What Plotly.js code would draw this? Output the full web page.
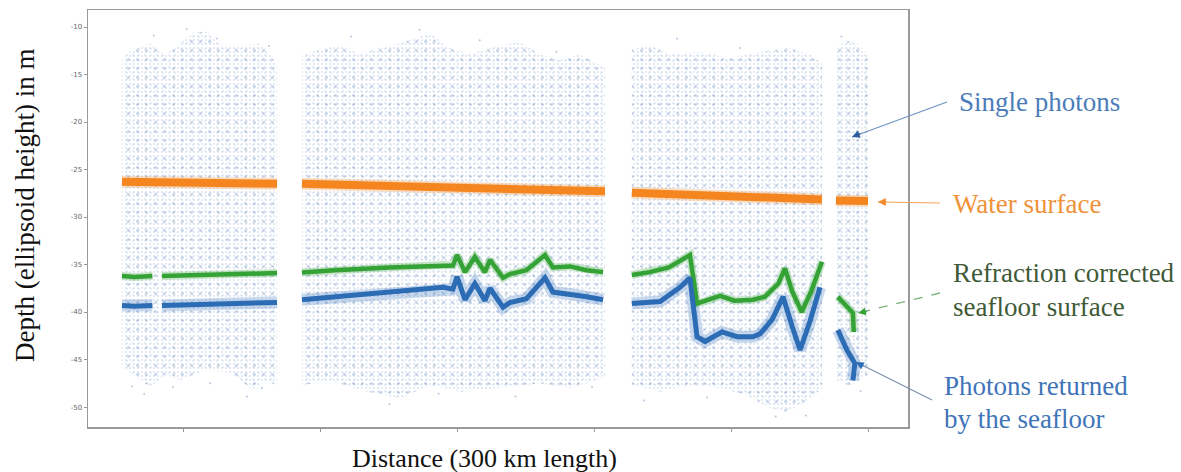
<!DOCTYPE html>
<html>
<head>
<meta charset="utf-8">
<script src="https://cdn.plot.ly/plotly-3.0.1.min.js"></script>
<style>html,body{margin:0;padding:0;background:#fff;}#chart{width:1181px;height:472px;}</style>
</head>
<body>
<div id="chart"></div>
<script>
// ---- Data (distance in km, depth in m) ----
// Noise photon envelopes per segment
var n1TopX = [12.4, 14.2, 22.6, 28.1, 32.5, 38.3, 43.4, 48.2, 52.9, 62.8, 66.4, 69.0];
var n1TopY = [-13.5, -12.7, -11.7, -12.9, -12.1, -10.6, -10.5, -11.9, -12.1, -11.7, -12.9, -14.0];
var n1BotX = [12.4, 14.2, 22.6, 28.1, 33.6, 42.7, 51.8, 60.2, 64.6, 69.0];
var n1BotY = [-45.6, -46.1, -47.9, -46.6, -47.2, -46.1, -46.4, -48.2, -47.2, -47.7];

var n2TopX = [78.1, 84.7, 92.0, 99.3, 106.6, 117.5, 124.8, 132.1, 139.4, 150.4, 157.7, 165.0, 172.3, 179.6, 188.7];
var n2TopY = [-12.9, -12.4, -11.9, -12.9, -12.2, -11.4, -10.6, -12.2, -12.9, -11.9, -11.6, -12.9, -13.5, -12.9, -14.3];
var n2BotX = [78.1, 88.3, 99.3, 113.9, 124.8, 135.8, 150.4, 165.0, 175.9, 188.7];
var n2BotY = [-47.7, -47.2, -48.2, -49.1, -47.7, -48.4, -48.0, -47.5, -48.0, -46.9];

var n3TopX = [198.5, 205.1, 212.4, 223.4, 234.3, 245.3, 256.2, 263.5, 267.9];
var n3TopY = [-12.4, -11.9, -12.9, -12.6, -13.3, -12.6, -12.2, -12.9, -13.7];
var n3BotX = [198.5, 208.8, 219.7, 230.7, 239.8, 248.9, 254.4, 259.9, 265.3, 267.9];
var n3BotY = [-47.7, -48.4, -47.7, -48.0, -48.7, -50.1, -50.5, -49.8, -48.7, -48.2];

var n4TopX = [273.0, 276.3, 280.7, 284.7];
var n4TopY = [-12.4, -11.4, -11.7, -12.9];
var n4BotX = [273.0, 278.1, 284.7];
var n4BotY = [-47.2, -47.8, -46.6];

// Water surface
var wsX = [12.4, 25, 40, 55, 69.0, null, 78.1, 100, 130, 160, 188.7, null, 198.5, 220, 245, 267.9, null, 273.0, 279.0, 284.7];
var wsY = [-26.3, -26.35, -26.4, -26.5, -26.5, null, -26.5, -26.7, -26.9, -27.1, -27.3, null, -27.45, -27.7, -27.95, -28.15, null, -28.25, -28.3, -28.3];

// Refraction corrected seafloor (green)
var gX = [12.4, 17, 23.5, null, 27, 40, 55, 69.0, null,
          78.1, 90, 110, 129.6, 133.2, 134.7, 137.6, 141.2, 144.9, 146.7, 151.5, 154.0, 160, 166.8, 169.7, 175.9, 182, 188.0, null,
          198.5, 205, 212, 219.7, 222.3, 226, 230.7, 236, 242.7, 247, 252, 254.4, 257, 260.5, 264, 267.9, null,
          273.7, 277.0, 279.2, 279.5];
var gY = [-36.2, -36.3, -36.2, null, -36.2, -36.1, -36.0, -35.9, null,
          -35.85, -35.6, -35.3, -35.05, -35.1, -34.0, -35.8, -34.2, -35.8, -34.5, -36.4, -36.0, -35.6, -34.0, -35.3, -35.2, -35.6, -35.8, null,
          -36.1, -35.8, -35.3, -34.0, -39.1, -38.8, -38.3, -38.8, -38.7, -38.4, -37.0, -35.4, -37.8, -40.0, -37.8, -34.7, null,
          -38.4, -39.5, -40.1, -42.1];

// Photons returned by the seafloor (blue)
var bX = [12.4, 17, 23.5, null, 27, 40, 55, 69.0, null,
          78.1, 90, 110, 129.6, 133.2, 134.7, 137.6, 141.2, 144.9, 146.7, 151.5, 154.0, 160, 166.8, 169.7, 175.9, 182, 188.0, null,
          198.5, 208.8, 216.1, 219.7, 222.3, 225.2, 231.4, 236.9, 242.7, 245.3, 249.7, 253.7, 257.0, 259.9, 263.5, 267.2, null,
          273.7, 277.0, 279.9, 279.2];
var bY = [-39.3, -39.4, -39.3, null, -39.3, -39.2, -39.1, -39.0, null,
          -38.7, -38.4, -38.0, -37.4, -37.6, -36.3, -38.7, -37.0, -38.8, -37.5, -39.5, -39.0, -38.6, -36.4, -37.9, -38.1, -38.4, -38.7, null,
          -39.1, -38.9, -37.4, -36.4, -42.6, -43.1, -42.1, -42.6, -42.6, -42.3, -40.8, -38.4, -41.5, -44.0, -41.0, -37.4, null,
          -41.9, -44.0, -45.4, -47.2];

// Stray single photons outside the dense envelopes
var strayX = [16.0, 20.5, 31.0, 44.5, 58.0, 63.5, 24.0, 36.0, 47.0, 66.0, 96.0, 121.0, 143.0, 171.0, 110.0, 128.0, 156.0, 184.0, 215.0, 238.0, 251.0, 262.0, 226.0, 203.0, 275.0, 282.0];
var strayY = [-47.8, -48.6, -47.9, -47.5, -48.9, -48.0, -10.9, -10.2, -11.2, -12.0, -11.0, -10.3, -11.4, -12.6, -49.7, -48.6, -48.9, -47.9, -11.2, -12.2, -51.0, -50.9, -49.0, -49.3, -11.0, -48.3];

var yTicks = [-10, -15, -20, -25, -30, -35, -40, -45, -50];
var xTicks = [35, 85, 135, 185, 235, 285];

// ---- Build traces ----
function poly(tx, ty, bx, by) {
  return {x: tx.concat(bx.slice().reverse(), [tx[0]]), y: ty.concat(by.slice().reverse(), [ty[0]])};
}
var segs = [poly(n1TopX, n1TopY, n1BotX, n1BotY), poly(n2TopX, n2TopY, n2BotX, n2BotY),
            poly(n3TopX, n3TopY, n3BotX, n3BotY), poly(n4TopX, n4TopY, n4BotX, n4BotY)];
var patterns = [
  {size: 4, solidity: 0.16, fgcolor: '#adc4df'},
  {size: 9, solidity: 0.07, fgcolor: '#7c9ec7'},
  {size: 6, solidity: 0.06, fgcolor: '#9ab5d6'}
];
var traces = [];
segs.forEach(function (s) {
  patterns.forEach(function (p) {
    traces.push({x: s.x, y: s.y, type: 'scatter', mode: 'lines', fill: 'toself', hoverinfo: 'skip',
      line: {width: 0, color: 'rgba(0,0,0,0)'}, fillcolor: 'rgba(0,0,0,0)',
      fillpattern: {shape: '.', size: p.size, solidity: p.solidity, fgcolor: p.fgcolor, fillmode: 'overlay'}, showlegend: false});
  });
});
traces.push({x: strayX, y: strayY, type: 'scatter', mode: 'markers', marker: {size: 2, color: '#b3c8e0'}, showlegend: false});

// halos
traces.push({x: bX, y: bY, type: 'scatter', mode: 'lines', line: {width: 12, color: 'rgba(60,120,190,0.28)'}, showlegend: false});
traces.push({x: gX, y: gY, type: 'scatter', mode: 'lines', line: {width: 8, color: 'rgba(70,170,70,0.3)'}, showlegend: false});
traces.push({x: wsX, y: wsY, type: 'scatter', mode: 'lines', line: {width: 12, color: 'rgba(245,150,60,0.3)'}, showlegend: false});
// main bands
traces.push({x: wsX, y: wsY, type: 'scatter', mode: 'lines', line: {width: 8, color: '#f5861f'}, showlegend: false});
traces.push({x: gX, y: gY, type: 'scatter', mode: 'lines', line: {width: 4.5, color: '#35a235'}, showlegend: false});
traces.push({x: bX, y: bY, type: 'scatter', mode: 'lines', line: {width: 5, color: '#2c6cb5'}, showlegend: false});

// ---- Layout helpers (pixel -> paper) ----
var L = 88, T = 10, W = 820, H = 417;
function px(p) { return (p - L) / W; }
function py(p) { return (T + H - p) / H; }

var serif = "'Liberation Serif', 'Times New Roman', serif";
function label(text, x, y, color) {
  return {text: text, xref: 'paper', yref: 'paper', x: px(x), y: py(y), xanchor: 'left', yanchor: 'middle',
    showarrow: false, font: {family: serif, size: 27, color: color}};
}
function head(hx, hy, tx, ty, color) {
  return {text: '', xref: 'paper', yref: 'paper', x: px(hx), y: py(hy), ax: tx - hx, ay: ty - hy,
    axref: 'pixel', ayref: 'pixel', showarrow: true, arrowhead: 2, arrowsize: 1.3, arrowwidth: 1.2, arrowcolor: color};
}

var layout = {
  width: 1181, height: 472,
  margin: {l: L, r: 1181 - L - W, t: T, b: 472 - T - H},
  paper_bgcolor: '#fff', plot_bgcolor: '#fff',
  xaxis: {range: [0, 299.3], showgrid: false, zeroline: false, showline: true, mirror: true, linecolor: '#9a9a9a', linewidth: 1.5,
    ticks: 'outside', ticklen: 3, tickcolor: '#9a9a9a', tickvals: xTicks, showticklabels: false},
  yaxis: {range: [-52.1, -8.21], showgrid: false, zeroline: false, showline: true, mirror: true, linecolor: '#9a9a9a', linewidth: 1.5,
    ticks: 'outside', ticklen: 3, tickcolor: '#9a9a9a', tickvals: yTicks, ticktext: yTicks.map(String),
    tickfont: {family: 'DejaVu Sans', size: 7, color: '#666'}},
  shapes: [
    {type: 'line', xref: 'paper', yref: 'paper', x0: px(947), y0: py(102), x1: px(852), y1: py(137), line: {color: '#6f93bf', width: 1.2}},
    {type: 'line', xref: 'paper', yref: 'paper', x0: px(940), y0: py(203), x1: px(878), y1: py(202), line: {color: '#f3a45c', width: 1.2}},
    {type: 'line', xref: 'paper', yref: 'paper', x0: px(940), y0: py(293), x1: px(858), y1: py(313), line: {color: '#7ab27a', width: 1.3, dash: 'dash'}},
    {type: 'line', xref: 'paper', yref: 'paper', x0: px(932), y0: py(400), x1: px(856), y1: py(362), line: {color: '#7b8ea8', width: 1.2}}
  ],
  annotations: [
    {text: 'Depth (ellipsoid height) in m', xref: 'paper', yref: 'paper', x: px(25), y: py(206), textangle: -90,
      xanchor: 'center', yanchor: 'middle', showarrow: false, font: {family: serif, size: 27, color: '#111'}},
    {text: 'Distance (300 km length)', xref: 'paper', yref: 'paper', x: px(484), y: py(458),
      xanchor: 'center', yanchor: 'middle', showarrow: false, font: {family: serif, size: 26, color: '#111'}},
    label('Single photons', 957, 102, '#4b7cb9'),
    label('Water surface', 951, 204, '#f0923a'),
    label('Refraction corrected', 951, 273, '#3f5a36'),
    label('seafloor surface', 951, 307, '#3f5a36'),
    label('Photons returned', 942, 386, '#3f74b8'),
    label('by the seafloor', 942, 419, '#3f74b8'),
    head(852, 137, 862, 133, '#2c5f9e'),
    head(878, 202, 888, 202, '#f08a2a'),
    head(858, 313, 868, 311, '#35a235'),
    head(856, 362, 865, 367, '#2c6cb5')
  ]
};

Plotly.newPlot('chart', traces, layout, {displayModeBar: false, staticPlot: true});
</script>
</body>
</html>
